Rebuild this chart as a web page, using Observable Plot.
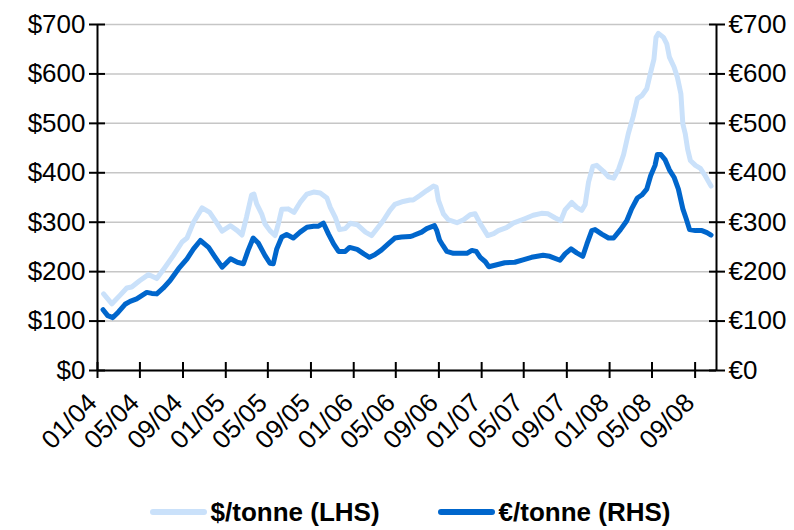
<!DOCTYPE html>
<html>
<head>
<meta charset="utf-8">
<script src="https://cdn.jsdelivr.net/npm/d3@7"></script>
<script src="https://cdn.jsdelivr.net/npm/@observablehq/plot@0.6"></script>
<style>
  html, body { margin: 0; padding: 0; background: #fff; }
  #wrap { position: relative; width: 794px; height: 530px; overflow: hidden; }
  #legend { position: absolute; top: 497px; left: 13px; width: 794px; display: flex; justify-content: center; align-items: center;
    font-family: "Liberation Sans", Arial, sans-serif; font-weight: bold; font-size: 26px; line-height: 30px; color: #000; }
  .item { display: flex; align-items: center; margin: 0 29px; }
  .sw { width: 57px; height: 6px; border-radius: 3px; margin-right: 4px; }
</style>
</head>
<body>
<div id="wrap">
  <div id="chart"></div>
  <div id="legend"></div>
</div>
<script>
// Series names / colours
const seriesNames = ["$/tonne (LHS)", "€/tonne (RHS)"];
const seriesColors = ["#cae1fa", "#0066cc"];

// x positions expressed as months since 1 Jan 2004
const usdMonths = [0.56,1.35,2.13,2.76,3.22,4.0,4.78,5.57,6.35,7.12,
  7.91,8.38,9.0,9.79,10.5,11.03,11.66,12.44,13.07,13.54,
  14.0,14.47,14.69,14.94,15.41,15.72,16.19,16.66,16.97,17.29,
  17.9,18.44,19.0,19.63,20.25,20.88,21.5,21.81,22.28,22.68,
  23.22,23.69,24.32,25.09,25.72,26.34,26.81,27.44,27.91,28.68,
  29.31,29.62,30.25,30.88,31.5,31.75,31.96,32.43,32.9,33.69,
  34.31,34.94,35.4,35.87,36.56,37.12,37.59,38.38,39.0,40.09,
  40.87,41.66,42.28,42.9,43.44,43.84,44.47,44.94,45.41,45.72,
  46.03,46.44,46.81,47.43,47.9,48.37,48.84,49.31,49.77,50.24,
  50.62,51.03,51.5,51.87,52.18,52.37,52.59,53.06,53.37,53.62,
  54.06,54.37,54.69,54.87,55.09,55.31,55.56,56.03,56.5,56.96,
  57.5];
const usdValues = [155,135,152,167,169,182,194,186,209,233,
  260,268,300,329,320,303,282,293,283,274,
  310,355,357,337,317,297,283,273,297,326,
  327,320,340,357,361,359,349,330,310,285,
  287,298,295,280,273,290,303,324,336,342,
  345,345,354,364,373,371,344,317,305,299,
  305,315,317,297,273,277,283,289,298,307,
  314,318,317,309,303,325,340,330,324,336,
  381,413,415,403,392,389,408,437,479,514,
  550,556,570,603,630,674,682,674,661,634,
  614,593,560,499,479,448,425,415,409,394,
  373];

const eurMonths = [0.51,0.94,1.44,1.97,2.6,3.07,3.69,4.63,5.1,5.57,
  6.19,6.81,7.59,8.38,9.0,9.63,10.4,11.03,11.66,12.44,
  13.07,13.69,14.15,14.62,15.09,15.72,16.19,16.5,16.82,17.29,
  17.75,18.37,19.0,19.63,20.25,20.72,21.18,21.65,22.12,22.59,
  23.22,23.62,24.32,24.93,25.5,26.03,26.66,27.28,27.91,28.53,
  29.31,29.62,30.41,30.88,31.59,31.81,32.06,32.38,32.75,33.37,
  34.16,34.63,35.1,35.5,35.87,36.34,36.65,37.44,38.22,39.15,
  39.93,40.72,41.81,42.43,43.37,43.84,44.4,44.94,45.5,45.88,
  46.34,46.65,47.28,47.9,48.37,49.0,49.62,50.09,50.62,51.03,
  51.5,51.87,52.28,52.49,52.81,53.22,53.62,54.06,54.46,54.87,
  55.18,55.49,56.03,56.65,57.12,57.5];
const eurValues = [123,111,107,118,134,140,145,158,156,155,
  167,182,206,226,246,263,249,229,209,226,
  219,216,243,268,258,233,217,216,246,270,
  275,268,280,290,292,292,298,276,256,241,
  241,249,245,236,229,234,244,256,268,270,
  271,273,280,287,293,283,264,253,241,237,
  237,237,243,241,229,220,210,214,218,219,
  224,229,233,231,223,236,246,238,231,256,
  283,285,276,268,268,285,303,327,349,355,
  367,394,415,437,437,426,406,391,367,327,
  307,285,283,283,279,274];

// Axis ticks
const tickDates = ["2004-01-01","2004-05-01","2004-09-01","2005-01-01","2005-05-01","2005-09-01",
  "2006-01-01","2006-05-01","2006-09-01","2007-01-01","2007-05-01","2007-09-01",
  "2008-01-01","2008-05-01","2008-09-01"];
const xDomain = ["2004-01-01", "2008-11-01"];
const yTicks = [0,100,200,300,400,500,600,700];

// ---- build
const base = new Date(Date.UTC(2004, 0, 1));
function monthToDate(m) {
  const i = Math.floor(m);
  const a = d3.utcMonth.offset(base, i);
  const b = d3.utcMonth.offset(base, i + 1);
  return new Date(+a + (m - i) * (b - a));
}
const usdData = usdMonths.map((m, i) => ({date: monthToDate(m), value: usdValues[i]}));
const eurData = eurMonths.map((m, i) => ({date: monthToDate(m), value: eurValues[i]}));
const ticks = tickDates.map(d => new Date(d));
const [x0, x1] = xDomain.map(d => new Date(d));

const chart = Plot.plot({
  width: 794,
  height: 470,
  marginLeft: 97,
  marginRight: 78,
  marginTop: 24,
  marginBottom: 100,
  x: {type: "utc", domain: [x0, x1], label: null},
  y: {domain: [0, 700], label: null},
  style: {fontFamily: "'Liberation Sans', Arial, sans-serif", fontSize: "26px", color: "#000", background: "#fff", overflow: "visible"},
  marks: [
    Plot.gridY({ticks: yTicks, stroke: "#c6c6c6", strokeOpacity: 1, strokeWidth: 1.5}),
    Plot.lineY(usdData, {x: "date", y: "value", stroke: seriesColors[0], strokeWidth: 5, strokeLinejoin: "round", strokeLinecap: "round"}),
    Plot.lineY(eurData, {x: "date", y: "value", stroke: seriesColors[1], strokeWidth: 5, strokeLinejoin: "round", strokeLinecap: "round"}),
    Plot.ruleY([0], {stroke: "#000", strokeWidth: 2}),
    Plot.ruleX([x0], {stroke: "#000", strokeWidth: 2}),
    Plot.ruleX([x1], {stroke: "#000", strokeWidth: 2}),
    Plot.axisY({anchor: "left", ticks: yTicks, tickFormat: d => "$" + d, tickSize: 8, tickPadding: 4, strokeWidth: 2}),
    Plot.axisY({anchor: "left", ticks: yTicks, tickFormat: () => "", tickSize: -8, strokeWidth: 2}),
    Plot.axisY({anchor: "right", ticks: yTicks, tickFormat: d => "€" + d, tickSize: 8, tickPadding: 4, strokeWidth: 2}),
    Plot.axisY({anchor: "right", ticks: yTicks, tickFormat: () => "", tickSize: -8, strokeWidth: 2}),
    Plot.axisX({ticks: ticks, tickFormat: () => "", tickSize: 8, strokeWidth: 2}),
    Plot.axisX({ticks: ticks, tickFormat: () => "", tickSize: -8, strokeWidth: 2}),
    Plot.axisX({ticks: ticks, tickFormat: d3.utcFormat("%m/%y"), tickRotate: -45, tickSize: 0, tickPadding: 28, dx: -5})
  ]
});
document.getElementById("chart").appendChild(chart);

// legend
const legend = document.getElementById("legend");
seriesNames.forEach((name, i) => {
  const item = document.createElement("div");
  item.className = "item";
  const sw = document.createElement("div");
  sw.className = "sw";
  sw.style.background = seriesColors[i];
  const label = document.createElement("span");
  label.textContent = name;
  item.appendChild(sw);
  item.appendChild(label);
  legend.appendChild(item);
});
</script>
</body>
</html>
